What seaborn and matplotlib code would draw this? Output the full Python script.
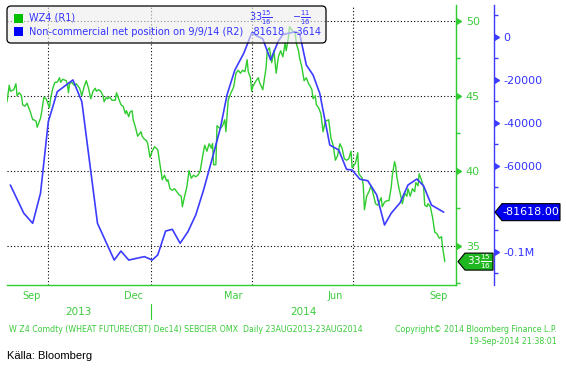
import pandas as pd
import matplotlib
matplotlib.use('Agg')
import matplotlib.pyplot as plt
import matplotlib.dates as mdates
import matplotlib.ticker as mticker
import matplotlib.transforms as mtransforms
from matplotlib.patches import FancyBboxPatch, Polygon, Rectangle
from matplotlib.markers import CARETRIGHTBASE
import seaborn as sns

# --- data ---
start_date = '2013-08-25'

# WZ4 wheat future price, days after start_date
wz4_day = [0, 2, 3, 6, 8, 9, 11, 13, 14, 16, 18, 21, 23, 24, 26, 27, 30, 31, 33, 35,
           36, 38, 39, 41, 43, 45, 47, 48, 50, 53, 54, 55, 56, 58, 60, 62, 64, 65, 67, 69,
           71, 73, 75, 77, 79, 80, 82, 84, 86, 87, 89, 90, 92, 94, 97, 98, 100, 102, 104, 106,
           107, 109, 110, 112, 113, 115, 116, 117, 118, 120, 121, 123, 125, 126, 128, 130, 132, 135, 136, 139,
           141, 143, 144, 146, 148, 150, 152, 154, 156, 157, 159, 161, 163, 165, 167, 169, 171, 173, 175, 177,
           179, 181, 183, 184, 185, 187, 188, 191, 193, 195, 196, 198, 200, 203, 205, 207, 209, 211, 213, 215,
           216, 218, 219, 220, 223, 225, 226, 229, 232, 233, 235, 237, 239, 241, 243, 245, 247, 249, 250, 252,
           253, 256, 258, 259, 261, 262, 264, 266, 268, 270, 271, 273, 274, 276, 277, 279, 281, 283, 285, 288,
           290, 292, 294, 296, 298, 300, 302, 304, 306, 308, 309, 312, 314, 315, 318, 319, 320, 322, 324, 326,
           328, 330, 332, 335, 336, 338, 340, 342, 344, 345, 347, 348, 349, 351, 352, 354, 356, 358, 359, 361,
           363, 365, 366, 368, 369, 371, 373, 374, 376, 377, 379, 381, 383, 385, 387, 389, 390, 392]
wz4_price = [44.6, 45.7, 45.3, 45.4, 45.8, 45.0, 45.2, 45.0, 44.4, 44.3, 44.5, 43.9, 43.4, 43.4, 43.3, 42.9, 43.5, 43.9, 44.9, 44.8,
             44.6, 44.2, 44.8, 45.5, 45.9, 45.9, 46.2, 45.9, 46.1, 46.0, 45.8, 45.2, 45.8, 45.9, 45.7, 45.8, 45.6, 45.5, 45.0, 45.6,
             46.0, 45.5, 44.8, 45.3, 45.5, 45.3, 45.4, 45.3, 45.0, 44.6, 44.9, 44.8, 44.9, 44.7, 44.7, 45.2, 44.8, 44.4, 44.3, 43.8,
             44.0, 43.6, 43.9, 44.0, 43.4, 42.9, 42.6, 42.3, 42.4, 42.6, 42.3, 42.1, 42.0, 41.8, 40.9, 41.3, 41.6, 41.4, 40.9, 39.4,
             39.7, 39.3, 39.4, 38.8, 38.7, 38.8, 38.6, 38.4, 38.3, 37.6, 38.3, 38.9, 40.0, 39.5, 39.7, 39.6, 39.7, 40.0, 40.9, 41.7,
             41.3, 41.8, 41.5, 41.8, 40.4, 40.4, 43.0, 42.8, 43.0, 43.4, 42.6, 44.7, 45.1, 45.6, 46.5, 46.7, 46.5, 46.7, 46.6, 47.4,
             46.6, 46.2, 45.3, 45.6, 46.0, 46.2, 45.9, 45.4, 46.9, 48.0, 48.2, 47.2, 48.0, 46.5, 47.6, 48.0, 47.6, 48.5, 48.0, 48.9,
             49.6, 49.3, 49.2, 48.5, 48.0, 47.5, 46.9, 46.0, 46.2, 45.8, 45.7, 45.4, 44.8, 45.0, 44.4, 44.2, 43.8, 42.6, 43.3, 43.4,
             42.2, 41.7, 40.7, 41.0, 41.8, 41.5, 40.8, 40.7, 40.8, 41.3, 40.2, 40.5, 41.2, 39.8, 39.5, 39.0, 37.4, 38.3, 38.6, 39.0,
             38.4, 37.8, 37.7, 38.2, 37.6, 37.9, 38.0, 38.0, 38.9, 39.7, 40.6, 40.3, 39.6, 38.8, 38.5, 37.8, 38.5, 38.3, 38.8, 38.3,
             38.8, 38.6, 39.2, 39.0, 39.8, 39.4, 38.9, 37.7, 37.6, 37.8, 37.6, 36.9, 35.9, 35.8, 35.5, 35.6, 34.9, 33.94]

# non-commercial net position (contracts), days after start_date
net_day = [3, 15, 23, 30, 37, 45, 59, 67, 81, 96, 102, 109, 123, 130, 135, 142, 148, 155, 162, 169,
           176, 183, 191, 197, 204, 212, 219, 229, 236, 243, 247, 258, 262, 268, 274, 280, 289, 297, 304, 309,
           316, 323, 331, 338, 344, 352, 359, 367, 373, 380, 391]
net_pos = [-69000, -82100, -86800, -72800, -39500, -25600, -20100, -30200, -86800, -103900,
           -99700, -103900, -102300, -103900, -101500, -90400, -89600, -96100, -90700, -82900,
           -71300, -58100, -42600, -27000, -15500, -7700, 1600, -1000, -10800, -2000,
           1000, 2300, 1500, -13200, -17800, -26300, -50400, -52700, -61700, -62000,
           -66300, -67000, -73600, -87600, -82100, -77200, -69000, -66200, -69400, -78300, -81618]

last_price_label = r'$33\frac{15}{16}$'
price_change_label = r'$-\frac{11}{16}$'
last_pos_label = '-81618'
pos_change_label = '-3614'
pos_box_label = '-81618.00'

month_labels = ['Sep', 'Dec', 'Mar', 'Jun', 'Sep']
month_label_dates = ['2013-09-16', '2013-12-16', '2014-03-16', '2014-06-15', '2014-09-15']
quarter_dates = ['2013-10-01', '2014-01-01', '2014-04-01', '2014-07-01', '2014-10-01']
year_labels = ['2013', '2014']
year_label_dates = ['2013-10-28', '2014-05-17']
year_split = '2014-01-01'
end_date = '2014-10-01'

price_ticks = [35, 40, 45, 50]
price_minor = [32.5, 37.5, 42.5, 47.5]
pos_ticks = [0, -20000, -40000, -60000, -100000]
pos_tick_labels = ['0', '-20000', '-40000', '-60000', '-0.1M']
pos_minor = [10000, -10000, -30000, -50000, -70000, -90000, -110000]

GREEN = '#2fcc2f'
GREEN_TXT = '#3ccc3c'
BLUE = '#3c3cff'
BLUE_TXT = '#3333ff'

sns.set_style('white')
plt.rcParams['font.family'] = ['DejaVu Sans']

start = pd.Timestamp(start_date)
wz4 = pd.DataFrame({'date': start + pd.to_timedelta(wz4_day, unit='D'), 'price': wz4_price})
net = pd.DataFrame({'date': start + pd.to_timedelta(net_day, unit='D'), 'pos': net_pos})

W, H = 566, 370
fig = plt.figure(figsize=(W / 100, H / 100), dpi=100)
ax = fig.add_axes([7 / W, 85 / H, 449 / W, 280 / H])
ax2 = ax.twinx()

sns.lineplot(data=wz4, x='date', y='price', ax=ax, color=GREEN, linewidth=1.0, legend=False)
sns.lineplot(data=net, x='date', y='pos', ax=ax2, color=BLUE, linewidth=1.2, legend=False)

for a in (ax, ax2):
    a.set_xlabel('')
    a.set_ylabel('')

ax.set_xlim(start, pd.Timestamp(end_date))
ax.set_ylim(32.38, 51.05)
ax2.set_ylim(-115500, 14740)

# x axis: quarter gridlines, monthly ticks, labels drawn below
ax.xaxis.set_major_locator(mticker.FixedLocator(mdates.date2num(pd.to_datetime(quarter_dates))))
ax.xaxis.set_minor_locator(mdates.MonthLocator())
ax.tick_params(axis='x', which='both', length=3, width=1, color=GREEN, direction='out',
               labelbottom=False)
for d, lbl in zip(month_label_dates, month_labels):
    ax.annotate(lbl, xy=(mdates.date2num(pd.Timestamp(d)), 0), xycoords=('data', 'axes fraction'),
                xytext=(0, -8), textcoords='offset points', ha='center', va='center',
                fontsize=7, color=GREEN_TXT, annotation_clip=False)
for d, lbl in zip(year_label_dates, year_labels):
    ax.annotate(lbl, xy=(mdates.date2num(pd.Timestamp(d)), 0), xycoords=('data', 'axes fraction'),
                xytext=(0, -19.5), textcoords='offset points', ha='center', va='center',
                fontsize=7.5, color=GREEN_TXT, annotation_clip=False)
split = mdates.date2num(pd.Timestamp(year_split))
ax.plot([split, split], [-0.068, -0.121], transform=ax.get_xaxis_transform(),
        color=GREEN, lw=0.8, clip_on=False)

# y axes on the right
ax.yaxis.tick_right()
ax.set_yticks(price_ticks, [str(t) for t in price_ticks])
ax.yaxis.set_minor_locator(mticker.FixedLocator(price_minor))
ax.tick_params(axis='y', which='both', left=False, right=True, labelleft=False, labelright=True,
               color=GREEN, labelcolor=GREEN_TXT, labelsize=8, width=1)
ax.tick_params(axis='y', which='major', length=4, pad=3)
ax.tick_params(axis='y', which='minor', length=3)

ax2.set_yticks(pos_ticks, pos_tick_labels)
ax2.yaxis.set_minor_locator(mticker.FixedLocator(pos_minor))
ax2.tick_params(axis='y', which='both', color=BLUE, labelcolor=BLUE_TXT, labelsize=8, width=1)
ax2.tick_params(axis='y', which='major', length=4, pad=3)
ax2.tick_params(axis='y', which='minor', length=3)

ax.grid(True, which='major', axis='both', color='black', lw=0.8, linestyle=(0, (1, 2)))
ax2.grid(False)

for s in ('left', 'top'):
    ax.spines[s].set_visible(False)
ax.spines['bottom'].set_color(GREEN)
ax.spines['right'].set_color(GREEN)
for s in ('left', 'top', 'bottom'):
    ax2.spines[s].set_visible(False)
ax2.spines['right'].set_color(BLUE)
ax2.spines['right'].set_position(('outward', 38 * 0.72))
for a in (ax, ax2):
    for s in a.spines.values():
        s.set_linewidth(1)

# caret shaped major ticks like the terminal
for t in ax.yaxis.get_major_ticks():
    t.tick2line.set_marker(CARETRIGHTBASE)
    t.tick2line.set_markersize(4.5)
    t.tick2line.set_markerfacecolor(GREEN)
    t.tick2line.set_markeredgecolor(GREEN)
for t in ax2.yaxis.get_major_ticks():
    t.tick2line.set_marker(CARETRIGHTBASE)
    t.tick2line.set_markersize(4.5)
    t.tick2line.set_markerfacecolor(BLUE)
    t.tick2line.set_markeredgecolor(BLUE)

ident = mtransforms.IdentityTransform()

# legend panel
fig.add_artist(FancyBboxPatch((7, H - 43), 319, 37, boxstyle='round,pad=0,rounding_size=4',
                              facecolor=(0.93, 0.93, 0.93, 0.6), edgecolor='black', lw=0.9,
                              transform=ident))
fig.add_artist(Rectangle((14, H - 23), 8.7, 9.4, facecolor='#00c000', edgecolor='none', transform=ident))
fig.add_artist(Rectangle((14, H - 36), 8.7, 9.4, facecolor='#0000ff', edgecolor='none', transform=ident))
fig.text(29, H - 18, 'WZ4 (R1)', transform=ident, va='center', fontsize=7.0, color=BLUE_TXT)
fig.text(29, H - 32, 'Non-commercial net position on 9/9/14 (R2)', transform=ident, va='center',
         fontsize=7.0, color=BLUE_TXT)
fig.text(249, H - 18, last_price_label, transform=ident, va='center', fontsize=7, color=BLUE_TXT)
fig.text(251, H - 32, last_pos_label, transform=ident, va='center', fontsize=7, color=BLUE_TXT)
fig.text(292, H - 18, price_change_label, transform=ident, va='center', fontsize=7, color=BLUE_TXT)
fig.text(294, H - 32, pos_change_label, transform=ident, va='center', fontsize=7, color=BLUE_TXT)

# last value boxes on the right axes
y_price = mtransforms.blended_transform_factory(ax.transAxes, ax.transData).transform((1, wz4_price[-1]))[1]
y_pos = mtransforms.blended_transform_factory(ax2.transAxes, ax2.transData).transform((1, net_pos[-1]))[1]


def value_box(x_tip, x_body, x_end, y, face, text, size):
    hh = 8.5
    fig.add_artist(Polygon([(x_tip, y), (x_body, y + hh), (x_end, y + hh), (x_end, y - hh), (x_body, y - hh)],
                           closed=True, facecolor=face, edgecolor='black', lw=0.8, transform=ident))
    fig.text((x_body + x_end) / 2, y, text, transform=ident, ha='center', va='center',
             fontsize=size, color='white')


value_box(458, 465, 493, y_price, '#20b820', last_price_label, 7.5)
value_box(495, 502, 560, y_pos, '#0000ee', pos_box_label, 8)

# footer
fig.text(9, H - 329, 'W Z4 Comdty (WHEAT FUTURE(CBT) Dec14) SEBCIER OMX  Daily 23AUG2013-23AUG2014',
         transform=ident, va='center', fontsize=5.7, color=GREEN_TXT)
fig.text(557, H - 329, 'Copyright\u00a9 2014 Bloomberg Finance L.P.', transform=ident, ha='right',
         va='center', fontsize=5.7, color=GREEN_TXT)
fig.text(557, H - 341, '19-Sep-2014 21:38:01', transform=ident, ha='right', va='center',
         fontsize=5.7, color=GREEN_TXT)
fig.text(7, H - 356, 'Källa: Bloomberg', transform=ident, va='center', fontsize=8, color='black',
         family=['Liberation Sans', 'DejaVu Sans'])

fig.savefig('out.png', dpi=100)
